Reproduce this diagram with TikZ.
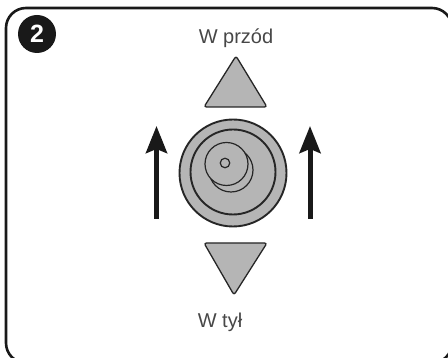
\documentclass[tikz,border=0pt]{standalone}
\usepackage{fontspec}
\setmainfont{Liberation Sans}
\usepackage{tikz}
\usetikzlibrary{arrows.meta, positioning}

\begin{document}
\begin{tikzpicture}[x=1pt, y=1pt,
    lbl/.style={font=\fontsize{20}{22}\selectfont, text=black!72, inner sep=0pt},
    ring/.style={circle, draw=black!85, fill=knob, line width=1.9pt, inner sep=0pt, outer sep=0pt},
    thin ring/.style={ring, line width=1.2pt},
    tri/.style={draw=black!85, fill=knob, line width=1.3pt, rounded corners=2.5pt, line join=round},
    a/.style={-{Stealth[length=27pt, width=21pt, inset=4pt]}, line width=5pt, black!90},
    every node/.append style={align=center}]
\definecolor{knob}{gray}{0.71}
\useasboundingbox (0,0) rectangle (448,358);
\clip (0,0) rectangle (448,358);
\draw[line width=2.6pt, black!90, rounded corners=20pt] (6,-5) rectangle (452,350);
\node[circle, fill=black!90, text=white, minimum size=38pt, inner sep=0pt,
    font=\fontsize{25}{25}\selectfont\bfseries] (badge) at (37,324) {2};
\node[lbl] (front) at (236,320) {W przód};
\node[lbl] (back) at (220,36) {W tył};
\draw[tri] (236,302) -- (267,251) -- (204,251) -- cycle;
\draw[tri] (204,115) -- (267,115) -- (234,63) -- cycle;
% knob
\node[ring, minimum size=107pt] (outer) at (233,185) {};
\node[ring, minimum size=85pt] (inner) at (233,186) {};
\node[thin ring, minimum size=44pt] (crescent) at (231,188) {};
\node[thin ring, minimum size=43pt] (cap) at (226.5,194) {};
\node[thin ring, minimum size=9.5pt] (hole) at (225,195) {};
% arrows
\coordinate (l0) at (156.5,139);
\coordinate (l1) at (156.5,232);
\coordinate (r0) at (310,139);
\coordinate (r1) at (310,232);
\draw[a] (l0) -- (l1);
\draw[a] (r0) -- (r1);
\end{tikzpicture}
\end{document}
